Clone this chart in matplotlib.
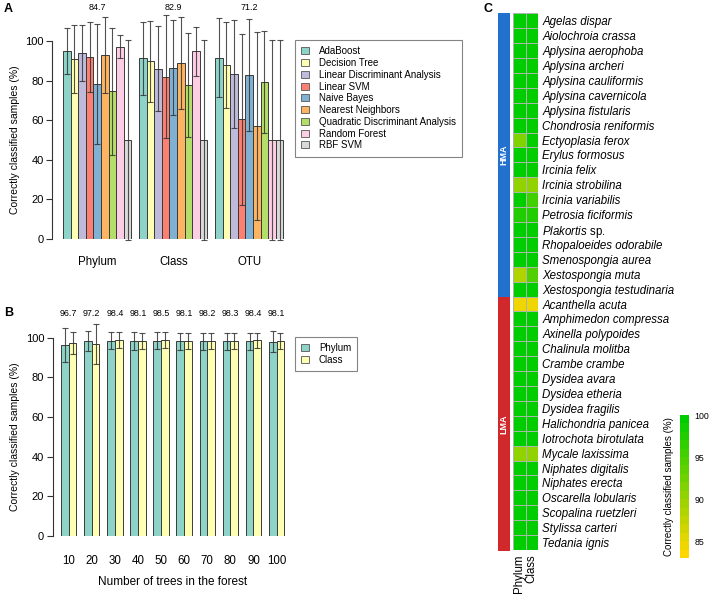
import matplotlib
matplotlib.use('Agg')
import matplotlib.pyplot as plt
import numpy as np
from matplotlib.patches import Patch
from matplotlib.colors import LinearSegmentedColormap, BoundaryNorm
from matplotlib.cm import ScalarMappable

plt.rcParams['font.family'] = ['Liberation Sans', 'DejaVu Sans']
plt.rcParams['mathtext.fontset'] = 'custom'
plt.rcParams['mathtext.it'] = 'Liberation Sans:italic'
plt.rcParams['mathtext.rm'] = 'Liberation Sans'

# ---- panel A data
classifiers = ['AdaBoost', 'Decision Tree', 'Linear Discriminant Analysis', 'Linear SVM',
               'Naive Bayes', 'Nearest Neighbors', 'Quadratic Discriminant Analysis',
               'Random Forest', 'RBF SVM']
levels = ['Phylum', 'Class', 'OTU']
acc_phylum = [95.0, 90.9, 93.8, 91.9, 78.3, 93.0, 74.6, 97.1, 50.2]
err_phylum = [11.8, 17.2, 14.2, 17.9, 30.4, 19.3, 32.2, 5.8, 50.5]
acc_class = [91.2, 89.7, 86.0, 82.0, 86.5, 88.9, 77.6, 94.8, 50.0]
err_class = [18.5, 20.6, 21.6, 31.0, 24.0, 23.1, 26.3, 12.3, 50.5]
acc_otu = [91.6, 88.0, 83.2, 60.4, 82.8, 57.2, 79.3, 50.0, 50.0]
err_otu = [19.8, 21.8, 27.3, 43.0, 28.5, 47.5, 26.0, 50.5, 50.5]
level_means = ['84.7', '82.9', '71.2']
set3 = ['#8DD3C7', '#FFFFB3', '#BEBADA', '#FB8072', '#80B1D3',
        '#FDB462', '#B3DE69', '#FCCDE5', '#D9D9D9']

# ---- panel B data
trees = [10, 20, 30, 40, 50, 60, 70, 80, 90, 100]
rf_phylum = [96.3, 98.2, 98.5, 98.2, 98.5, 98.2, 98.2, 98.2, 98.3, 98.0]
rf_phylum_err = [8.6, 5.0, 4.3, 4.5, 4.3, 4.3, 4.3, 4.3, 4.3, 5.4]
rf_class = [97.3, 96.8, 98.7, 98.5, 98.7, 98.3, 98.5, 98.5, 98.6, 98.3]
rf_class_err = [5.7, 10.3, 4.0, 4.0, 4.0, 4.0, 4.0, 4.0, 4.0, 4.0]
tree_means = ['96.7', '97.2', '98.4', '98.1', '98.5', '98.1', '98.2', '98.3', '98.4', '98.1']

# ---- panel C data
species = ['Agelas dispar', 'Aiolochroia crassa', 'Aplysina aerophoba', 'Aplysina archeri',
           'Aplysina cauliformis', 'Aplysina cavernicola', 'Aplysina fistularis',
           'Chondrosia reniformis', 'Ectyoplasia ferox', 'Erylus formosus', 'Ircinia felix',
           'Ircinia strobilina', 'Ircinia variabilis', 'Petrosia ficiformis', 'Plakortis sp.',
           'Rhopaloeides odorabile', 'Smenospongia aurea', 'Xestospongia muta',
           'Xestospongia testudinaria',
           'Acanthella acuta', 'Amphimedon compressa', 'Axinella polypoides', 'Chalinula molitba',
           'Crambe crambe', 'Dysidea avara', 'Dysidea etheria', 'Dysidea fragilis',
           'Halichondria panicea', 'Iotrochota birotulata', 'Mycale laxissima',
           'Niphates digitalis', 'Niphates erecta', 'Oscarella lobularis',
           'Scopalina ruetzleri', 'Stylissa carteri', 'Tedania ignis']
status = ['HMA'] * 19 + ['LMA'] * 17
heat_phylum = [100, 100, 100, 100, 100, 100, 100, 100, 91, 100, 100, 90, 100, 97, 100, 100, 100, 88, 100,
               84, 100, 100, 100, 100, 100, 100, 100, 100, 100, 90, 100, 100, 100, 100, 100, 100]
heat_class = [100, 100, 100, 100, 100, 100, 100, 100, 100, 100, 100, 90, 95, 97, 100, 100, 100, 94, 100,
              84, 100, 100, 100, 100, 100, 100, 100, 100, 100, 90, 100, 100, 100, 100, 100, 100]
heat_cols = ['Phylum', 'Class']

W, H = 712, 596
fig = plt.figure(figsize=(W / 100, H / 100), dpi=100)


def px(x0, y0, x1, y1):
    return [x0 / W, 1 - y1 / H, (x1 - x0) / W, (y1 - y0) / H]


def style_axis(ax):
    for s in ['top', 'right', 'bottom']:
        ax.spines[s].set_visible(False)
    ax.spines['left'].set_bounds(0, 100)
    ax.spines['left'].set_color('#333333')
    ax.set_ylim(0, 100)
    ax.set_yticks([0, 20, 40, 60, 80, 100])
    ax.tick_params(axis='y', length=4, color='#333333', labelsize=8, pad=2)
    ax.tick_params(axis='x', length=0)
    ax.set_ylabel('Correctly classified samples (%)', fontsize=7.5, labelpad=4)


# ---- panel A
axA = fig.add_axes(px(52, 41, 291, 239))
style_axis(axA)
acc_all = [acc_phylum, acc_class, acc_otu]
err_all = [err_phylum, err_class, err_otu]
for g in range(len(levels)):
    xs = g * 10 + 1 + np.arange(len(classifiers)) + 0.5
    axA.bar(xs, acc_all[g], width=1.0, color=set3, edgecolor='#3a3a3a', linewidth=0.7)
    axA.errorbar(xs, acc_all[g], yerr=err_all[g], fmt='none', ecolor='#333333',
                 elinewidth=0.8, capsize=2, capthick=0.8, clip_on=False, alpha=0.85)
    axA.text(g * 10 + 5.5, 117, level_means[g], ha='center', va='center', fontsize=6.4)
axA.set_xlim(-0.45, 31)
axA.set_xticks([g * 10 + 5.5 for g in range(len(levels))])
axA.set_xticklabels(levels, fontsize=8.3)
axA.tick_params(axis='x', pad=12)

handlesA = [Patch(facecolor=c, edgecolor='#555555', linewidth=0.6) for c in set3]
legA = fig.legend(handlesA, classifiers, loc='upper left', bbox_to_anchor=(295 / W, 1 - 40 / H),
                  fontsize=7, frameon=True, fancybox=False, edgecolor='#666666',
                  handlelength=0.8, handleheight=0.75, handletextpad=1.0,
                  labelspacing=0.18, borderpad=0.65, borderaxespad=0)
legA.get_frame().set_linewidth(0.8)

# ---- panel B
axB = fig.add_axes(px(52.5, 337.7, 292, 536))
style_axis(axB)
for k, (vals, errs, c) in enumerate([(rf_phylum, rf_phylum_err, set3[0]),
                                     (rf_class, rf_class_err, set3[1])]):
    xs = np.arange(len(trees)) * 3 + 1 + k + 0.5
    axB.bar(xs, vals, width=1.0, color=c, edgecolor='#3a3a3a', linewidth=0.7)
    axB.errorbar(xs, vals, yerr=errs, fmt='none', ecolor='#333333', elinewidth=0.8,
                 capsize=2, capthick=0.8, clip_on=False, alpha=0.85)
centers = np.arange(len(trees)) * 3 + 2
for x, m in zip(centers, tree_means):
    axB.text(x, 112, m, ha='center', va='center', fontsize=6.4)
axB.set_xlim(-0.1, 31)
axB.set_xticks(centers)
axB.set_xticklabels([str(t) for t in trees], fontsize=8.3)
axB.tick_params(axis='x', pad=14)
axB.set_xlabel('Number of trees in the forest', fontsize=8.5, labelpad=6)

handlesB = [Patch(facecolor=c, edgecolor='#555555', linewidth=0.6) for c in set3[:2]]
legB = fig.legend(handlesB, ['Phylum', 'Class'], loc='upper left',
                  bbox_to_anchor=(295 / W, 1 - 337 / H),
                  fontsize=7, frameon=True, fancybox=False, edgecolor='#666666',
                  handlelength=0.8, handleheight=0.75, handletextpad=1.0,
                  labelspacing=0.18, borderpad=0.65, borderaxespad=0)
legB.get_frame().set_linewidth(0.8)

# ---- panel C heatmap
cmap = LinearSegmentedColormap.from_list('gy', ['#FFD700', '#00CD00'])
bounds = np.arange(83, 101, 1)
norm = BoundaryNorm(bounds, cmap.N)

axC = fig.add_axes(px(513, 13.3, 538, 550))
data = np.column_stack([heat_phylum, heat_class])
axC.pcolormesh(data, cmap=cmap, norm=norm, edgecolors='#A9B8A9', linewidth=0.6)
axC.set_ylim(len(species), 0)
axC.set_xlim(0, 2)
for s in axC.spines.values():
    s.set_visible(False)
axC.yaxis.tick_right()
axC.set_yticks(np.arange(len(species)) + 0.5)
labels = []
for sp in species:
    if sp.endswith(' sp.'):
        labels.append('$\\mathit{' + sp[:-4] + '}$ sp.')
    else:
        labels.append(sp)
axC.set_yticklabels(labels, fontsize=8.3)
for lbl, sp in zip(axC.get_yticklabels(), species):
    lbl.set_fontstyle('normal' if sp.endswith(' sp.') else 'italic')
axC.tick_params(axis='y', length=0, pad=3)
axC.set_xticks([0.5, 1.5])
axC.set_xticklabels(heat_cols, rotation=90, fontsize=8.3)
axC.tick_params(axis='x', length=0, pad=3)

# side bar with HMA / LMA
axS = fig.add_axes(px(498, 13.3, 510, 551))
axS.set_ylim(len(species), 0)
axS.set_xlim(0, 1)
axS.axis('off')
group_colors = {'HMA': '#2271CE', 'LMA': '#D1282C'}
start = 0
for grp in ['HMA', 'LMA']:
    n = status.count(grp)
    axS.bar(0.5, n, bottom=start, width=1.0, color=group_colors[grp], linewidth=0)
    axS.text(0.5, start + n / 2, grp, rotation=90, color='white', fontweight='bold',
             fontsize=6.5, ha='center', va='center')
    start += n

# colorbar
cax = fig.add_axes(px(680, 415, 689, 558))
cb = fig.colorbar(ScalarMappable(norm=norm, cmap=cmap), cax=cax, ticks=[85, 90, 95, 100])
cb.outline.set_visible(False)
cax.minorticks_off()
cax.tick_params(which='both', length=0, labelsize=6.3, pad=4)
cb.set_label('Correctly classified samples (%)', fontsize=7)
cax.yaxis.set_label_position('left')
cax.yaxis.labelpad = 4

# panel letters
fig.text(4 / W, 1 - 9 / H, 'A', fontsize=9, fontweight='bold', va='center')
fig.text(4 / W, 1 - 313 / H, 'B', fontsize=9, fontweight='bold', va='center')
fig.text(484 / W, 1 - 9 / H, 'C', fontsize=9, fontweight='bold', va='center')

fig.savefig('out.png', dpi=100)
